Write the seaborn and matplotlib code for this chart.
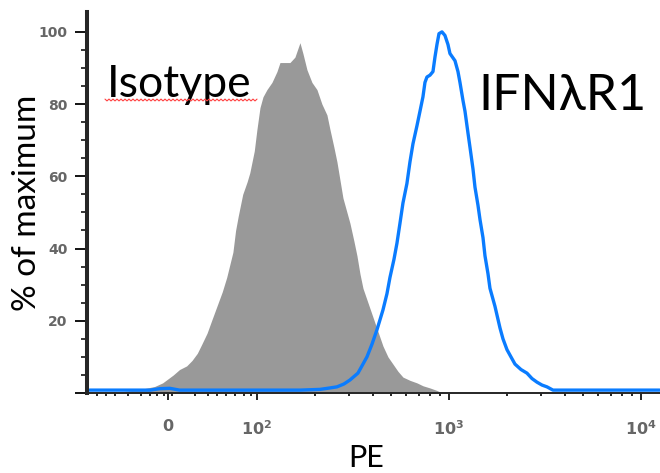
import numpy as np
import matplotlib
matplotlib.use("Agg")
import matplotlib.pyplot as plt
import seaborn as sns

# ---- data: PE intensity (bin centres) and % of maximum ----
isotype_pe = [-88, -54, -31, -15, -6, 6, 13, 21, 27, 33, 38, 44, 49, 55, 61, 66, 73, 76, 79,
              84, 89, 92, 97, 100, 103.7, 107.5, 112.7, 119.7, 127.1, 131.8, 139.9, 148.5,
              157.7, 167.5, 173.6, 182.2, 193.4, 205.4, 218.0, 231.5, 240, 251.8, 261,
              270.6, 280.5, 294.3, 305.1, 320.1, 331.8, 344.0, 356.6, 378.6, 402, 426.8,
              453.2, 481.2, 510.9, 542.5, 576, 626.5, 681.3, 732, 796.2, 866, 919.5]
isotype_pct = [0, 0.3, 1.0, 1.8, 2.8, 5.0, 6.5, 7.5, 9, 11, 13.5, 16.6, 20, 24, 28, 32, 39, 45, 49,
               55, 58.5, 61, 67, 73, 79, 82, 84, 86, 89, 91.5, 91.5, 91.5,
               93, 97, 94, 89.5, 86, 84, 80, 77, 73, 68, 64,
               59, 54, 50, 47, 42, 38, 33, 29, 25, 21, 17,
               13, 10, 8, 6, 4.4, 3.5, 2.8, 2.0, 1.4, 0.7, 0]

ifn_pe = [-88, -20, -9, 2, 13, 167.5, 212.9, 240, 261, 283.9, 305.1, 335.7, 352.3, 374.1,
          397.2, 421.7, 453.2, 475.5, 492.9, 517.1, 536.1, 555.7, 576, 604.0, 626.5, 649.4,
          681.3, 706.3, 732, 749.9, 768.1, 796.2, 825.4, 845.4, 866, 887.2, 919.5, 953.1,
          988.1, 1012, 1075, 1114, 1141, 1183, 1212, 1256, 1287, 1334, 1366, 1416, 1451,
          1504, 1540, 1597, 1635, 1736, 1844, 1911, 2005, 2103, 2207, 2371, 2548, 2706,
          2873, 3051, 3239, 3481, 12500]
ifn_pct = [0.8, 0.8, 1.2, 1.3, 0.8, 0.8, 1.0, 1.4, 1.7, 2.5, 3.6, 5.5, 7.5, 10,
           13.5, 17.5, 23, 27.5, 32, 37, 41.5, 47, 52.6, 58, 64, 69,
           74, 78, 82, 86, 87.5, 88, 89, 93, 96.5, 99.5, 100, 99,
           96.5, 94, 92, 89, 86, 81, 78, 72, 68, 62, 57, 52, 48,
           43, 38, 33, 29, 24, 18, 15, 12, 10, 8, 6.5, 5.5, 4.0,
           3.0, 2.2, 1.7, 0.8, 0.8]

x_major = [0, 100, 1000, 10000]
x_major_labels = ["0", "$10^{2}$", "$10^{3}$", "$10^{4}$"]
x_minor = [-80, -70, -60, -45, -30, -20, -12, -4, 5, 30, 45, 55, 65, 75, 85, 93,
           200, 300, 400, 500, 600, 700, 800, 900,
           2000, 3000, 4000, 5000, 6000, 7000, 8000, 9000]
y_major = [0, 20, 40, 60, 80, 100]
y_major_labels = ["", "20", "40", "60", "80", "100"]

# ---- style ----
sns.set_style("ticks")
plt.rcParams["font.family"] = ["Lato", "Open Sans", "DejaVu Sans"]
plt.rcParams["mathtext.fontset"] = "dejavusans"
plt.rcParams["mathtext.default"] = "bf"

fig = plt.figure(figsize=(6.6, 4.73), dpi=100)
W, H = 660, 473
ax = fig.add_axes([87 / W, (H - 393) / H, 573 / W, 381 / H])

ax.fill_between(isotype_pe, isotype_pct, 0, color="#999999", linewidth=0, zorder=2)
sns.lineplot(x=ifn_pe, y=ifn_pct, sort=False, estimator=None, color="#0a7cff",
             linewidth=2.4, ax=ax, zorder=3)

ax.set_xscale("symlog", linthresh=100, linscale=0.417)
ax.set_xlim(-91, 12560)
ax.set_ylim(0, 105.5)

ax.set_xticks(x_major)
ax.set_xticklabels(x_major_labels)
ax.set_xticks(x_minor, minor=True)
ax.set_yticks(y_major)
ax.set_yticklabels(y_major_labels)
ax.set_yticks(np.arange(0, 101, 5), minor=True)

for lab in ax.get_xticklabels() + ax.get_yticklabels():
    lab.set_fontfamily("DejaVu Sans")
    lab.set_fontweight("bold")

ax.tick_params(axis="x", which="major", length=5, width=1.2, pad=14,
               labelsize=11.5, labelcolor="#666666", color="black")
ax.tick_params(axis="x", which="minor", length=2.2, width=1.2, color="black")
ax.tick_params(axis="y", which="major", length=9, width=1.3, pad=5,
               labelsize=10, labelcolor="#666666", color="black")
ax.tick_params(axis="y", which="minor", length=4.5, width=1.1, color="black")

for s in ("top", "right"):
    ax.spines[s].set_visible(False)
ax.spines["left"].set_linewidth(2.9)
ax.spines["bottom"].set_linewidth(1.4)
ax.spines["left"].set_zorder(5)
ax.grid(False)

ax.set_ylabel("% of maximum", fontsize=24, color="black")
ax.yaxis.set_label_coords((42 - 87) / 573, 0.5)
ax.set_xlabel("PE", fontsize=22, color="black")
ax.xaxis.set_label_coords((366 - 87) / 573, (393 - 444) / 381)

ax.text(20 / 573, (393 - 97) / 381, "Isotype", transform=ax.transAxes,
        fontsize=32, color="black", va="baseline", ha="left")
ax.text(391 / 573, (393 - 110) / 381, "IFNλR1", transform=ax.transAxes,
        fontsize=36, color="black", va="baseline", ha="left")

# wavy spell-check underline beneath the isotype label
sx = np.arange(105, 259, 2.0)
sy = 100 + np.where(np.arange(len(sx)) % 2 == 0, -0.9, 0.9)
fig.add_artist(plt.Line2D(sx / W, (H - sy) / H, transform=fig.transFigure,
                          color="#ff4040", linewidth=0.8))

fig.savefig("out.png", dpi=100)
